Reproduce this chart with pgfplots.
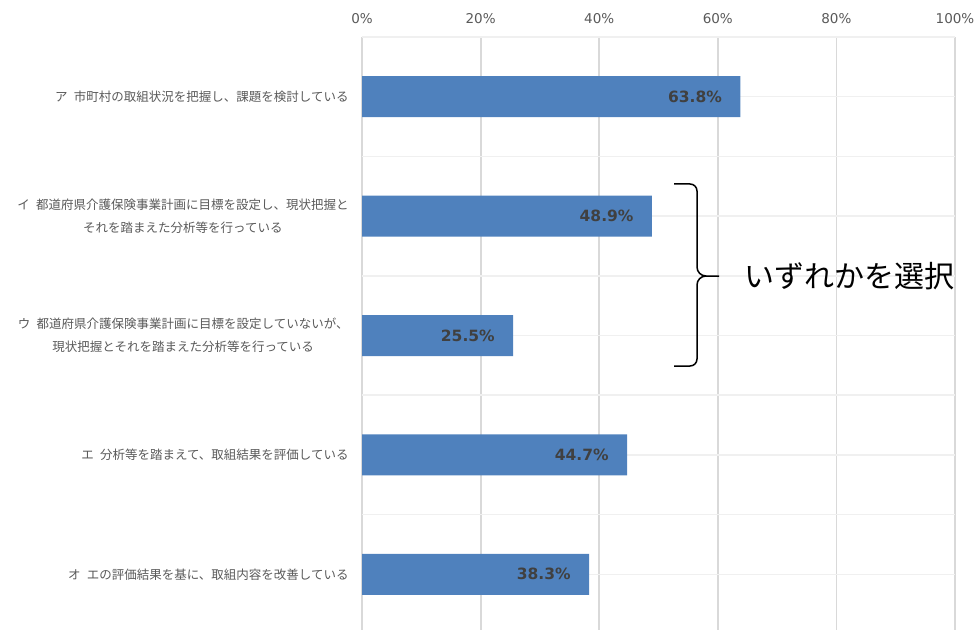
\documentclass[border=0pt]{standalone}
\usepackage{fontspec}
\setmainfont{DejaVu Sans}
\newfontfamily\jp{Noto Sans CJK JP}
\usepackage{pgfplots}
\pgfplotsset{compat=1.18}
\definecolor{barblue}{HTML}{4F81BD}
\definecolor{labgray}{HTML}{595959}
\definecolor{valgray}{HTML}{404040}
\definecolor{vgrid}{HTML}{D9D9D9}
\definecolor{hgrid}{HTML}{F0F0F0}

\begin{document}
\begin{tikzpicture}[x=1bp,y=1bp]
  \useasboundingbox (0,0) rectangle (975,-630);
  \begin{axis}[
      at={(362bp,-37bp)}, anchor=north west,
      scale only axis, width=593bp, height=597bp,
      xbar, bar width=41bp,
      xmin=0, xmax=100, ymin=-0.5, ymax=4.5,
      y dir=reverse,
      axis line style={draw=none},
      tick style={draw=none},
      xtick={0,20,...,100},
      xticklabel pos=right,
      xticklabel={\pgfmathprintnumber[assume math mode=true]{\tick}\%},
      xticklabel style={font=\fontsize{13.5bp}{15bp}\selectfont, text=labgray,
        inner sep=0pt, anchor=base, yshift=14bp},
      xmajorgrids,
      major x grid style={vgrid, line width=1.8bp},
      ytick={0,...,4},
      minor ytick={-0.5,0.5,...,4.5},
      ymajorgrids, yminorgrids,
      major y grid style={hgrid, line width=1.5bp},
      minor y grid style={hgrid, line width=1.5bp},
      yticklabels={
        {ア\hspace{0.5em}市町村の取組状況を把握し、課題を検討している},
        {イ\hspace{0.5em}都道府県介護保険事業計画に目標を設定し、現状把握と\\それを踏まえた分析等を行っている},
        {ウ\hspace{0.5em}都道府県介護保険事業計画に目標を設定していないが、\\現状把握とそれを踏まえた分析等を行っている},
        {エ\hspace{0.5em}分析等を踏まえて、取組結果を評価している},
        {オ\hspace{0.5em}エの評価結果を基に、取組内容を改善している}},
      yticklabel style={font=\jp\fontsize{12.5bp}{23bp}\selectfont, text=labgray,
        align=center, inner sep=0pt, xshift=-9bp},
      point meta=x,
      nodes near coords={\pgfmathprintnumber[fixed,fixed zerofill,precision=1,assume math mode=true]{\pgfplotspointmeta}\%},
      every node near coord/.append style={anchor=east, xshift=-15bp,
        font=\bfseries\fontsize{15.5bp}{18bp}\selectfont, text=valgray},
    ]
    \addplot[fill=barblue, draw=none] coordinates {
      (63.8,0) (48.9,1) (25.5,2) (44.7,3) (38.3,4)
    };
  \end{axis}
  % brace
  \draw[line width=1.5bp, black]
    (674,-184) -- (690,-184) to[out=0,in=90] (697,-191) -- (697,-267)
    to[out=-90,in=180] (706,-276) -- (719,-276);
  \draw[line width=1.5bp, black]
    (674,-366) -- (690,-366) to[out=0,in=-90] (697,-359) -- (697,-285)
    to[out=90,in=180] (706,-276);
  \node[anchor=west, inner sep=0pt, font=\jp\fontsize{30bp}{36bp}\selectfont]
    at (744,-276) {いずれかを選択};
\end{tikzpicture}
\end{document}
